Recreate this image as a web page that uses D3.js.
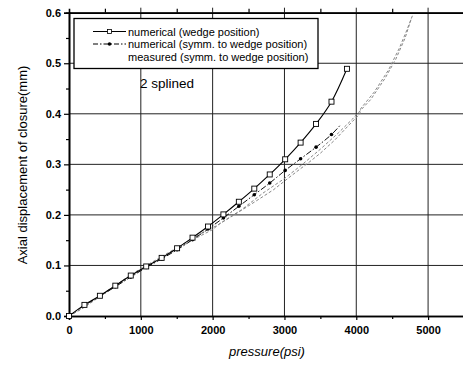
<!DOCTYPE html>
<html>
<head>
<meta charset="utf-8">
<script src="https://cdn.jsdelivr.net/npm/d3@7"></script>
<style>
  body { margin: 0; background: #fff; }
  svg { font-family: "Liberation Sans", Arial, sans-serif; }
</style>
</head>
<body>
<svg id="chart" width="463" height="366"></svg>
<script>
// pressure (psi) steps of the numerical runs
const pressure = [0, 215, 430, 645, 860, 1075, 1290, 1505, 1720, 1935, 2150, 2365, 2580, 2795, 3010, 3225, 3440, 3655, 3870];
// numerical, wedge position (mm)
const wedge = [0, 0.022, 0.04, 0.06, 0.08, 0.098, 0.115, 0.134, 0.155, 0.177, 0.201, 0.226, 0.252, 0.28, 0.31, 0.343, 0.38, 0.424, 0.489];
// numerical, symm. to wedge position (mm), last point has no marker
const symmP = [0, 215, 430, 645, 860, 1075, 1290, 1505, 1720, 1935, 2150, 2365, 2580, 2795, 3010, 3225, 3440, 3655, 3780];
const symm = [0, 0.021, 0.039, 0.058, 0.077, 0.096, 0.113, 0.131, 0.151, 0.172, 0.194, 0.217, 0.24, 0.263, 0.288, 0.311, 0.334, 0.359, 0.378];
// measured traces (two passes)
const measP1 = [0, 150, 400, 700, 1000, 1250, 1500, 1800, 1950, 2050, 2300, 2600, 2850, 3100, 3350, 3500, 3700, 3900, 4050, 4060, 4250, 4450, 4600, 4700, 4790];
const meas1 = [0, 0.012, 0.037, 0.066, 0.094, 0.114, 0.135, 0.16, 0.172, 0.178, 0.2, 0.227, 0.25, 0.278, 0.305, 0.322, 0.348, 0.378, 0.4, 0.41, 0.443, 0.487, 0.53, 0.564, 0.597];
const measP2 = [0, 200, 500, 800, 1100, 1400, 1700, 2000, 2100, 2400, 2700, 3000, 3250, 3500, 3750, 3950, 4000, 4200, 4400, 4550, 4680, 4770];
const meas2 = [0, 0.016, 0.045, 0.073, 0.1, 0.124, 0.149, 0.171, 0.183, 0.21, 0.243, 0.272, 0.3, 0.33, 0.362, 0.39, 0.398, 0.428, 0.47, 0.508, 0.55, 0.59];

const xTicks = [0, 1000, 2000, 3000, 4000, 5000];
const yTicks = [0.0, 0.1, 0.2, 0.3, 0.4, 0.5, 0.6];

const svg = d3.select("#chart");
const plotLeft = 69, plotRight = 464, plotTop = 12.7, plotBottom = 316;

const x = d3.scaleLinear().domain([0, 5500]).range([plotLeft, plotRight]);
const y = d3.scaleLinear().domain([0, 0.6]).range([plotBottom, plotTop]);

// grid
svg.append("g").selectAll("line").data(xTicks.slice(1)).enter().append("line")
  .attr("x1", d => x(d)).attr("x2", d => x(d)).attr("y1", plotTop - 5).attr("y2", plotBottom)
  .attr("stroke", "#222").attr("stroke-width", 1);
svg.append("g").selectAll("line").data(yTicks.slice(1)).enter().append("line")
  .attr("x1", plotLeft).attr("x2", plotRight).attr("y1", d => y(d)).attr("y2", d => y(d))
  .attr("stroke", "#222").attr("stroke-width", 1);

// axes
const xAxis = svg.append("g").attr("transform", `translate(0,${plotBottom})`)
  .call(d3.axisBottom(x).tickValues(xTicks).tickSize(4).tickPadding(6).tickFormat(d3.format("d")));
const xMinor = svg.append("g").attr("transform", `translate(0,${plotBottom})`)
  .call(d3.axisBottom(x).tickValues(d3.range(500, 5500, 1000)).tickSize(3).tickFormat(""));
const xTop = svg.append("g").attr("transform", `translate(0,${plotTop})`)
  .call(d3.axisTop(x).tickValues(d3.range(500, 5500, 1000)).tickSize(4).tickFormat(""));
const yAxis = svg.append("g").attr("transform", `translate(${plotLeft},0)`)
  .call(d3.axisLeft(y).tickValues(yTicks).tickSize(5).tickPadding(3).tickFormat(d3.format(".1f")));
const yMinor = svg.append("g").attr("transform", `translate(${plotLeft},0)`)
  .call(d3.axisLeft(y).tickValues(d3.range(0.05, 0.6, 0.1)).tickSize(3).tickFormat(""));

[xAxis, xMinor, xTop, yAxis, yMinor].forEach(g => {
  g.select(".domain").attr("stroke", "#000").attr("stroke-width", 1.6);
  g.selectAll(".tick line").attr("stroke", "#000").attr("stroke-width", 1.2);
  g.selectAll("text").attr("fill", "#000").style("font-size", "11px").style("font-weight", "bold");
});

// measured traces
const measLine = d3.line().x(d => x(d[0])).y(d => y(d[1]));
[[measP1, meas1], [measP2, meas2]].forEach(([px, py]) => {
  svg.append("path").datum(px.map((p, i) => [p, py[i]]))
    .attr("d", measLine).attr("fill", "none")
    .attr("stroke", "#888").attr("stroke-width", 1).attr("stroke-dasharray", "3,2");
});

// numerical symm.
const symmData = symmP.map((p, i) => [p, symm[i]]);
svg.append("path").datum(symmData)
  .attr("d", d3.line().curve(d3.curveCatmullRom).x(d => x(d[0])).y(d => y(d[1])))
  .attr("fill", "none").attr("stroke", "#111").attr("stroke-width", 1)
  .attr("stroke-dasharray", "6,2,1.5,2");
svg.append("g").selectAll("circle").data(symmData.slice(0, -1)).enter().append("circle")
  .attr("cx", d => x(d[0])).attr("cy", d => y(d[1])).attr("r", 1.8).attr("fill", "#000");

// numerical wedge
const wedgeData = pressure.map((p, i) => [p, wedge[i]]);
svg.append("path").datum(wedgeData)
  .attr("d", d3.line().curve(d3.curveCatmullRom).x(d => x(d[0])).y(d => y(d[1])))
  .attr("fill", "none").attr("stroke", "#000").attr("stroke-width", 1.1);
svg.append("g").selectAll("rect").data(wedgeData).enter().append("rect")
  .attr("x", d => x(d[0]) - 2.5).attr("y", d => y(d[1]) - 2.5)
  .attr("width", 5).attr("height", 5)
  .attr("fill", "#fff").attr("stroke", "#000").attr("stroke-width", 0.9);

// legend
const lg = svg.append("g");
lg.append("rect").attr("x", 74).attr("y", 18.5).attr("width", 244).attr("height", 50)
  .attr("fill", "#fff").attr("stroke", "#000").attr("stroke-width", 1.3);
const rows = [
  { label: "numerical (wedge position)", kind: "wedge", cy: 31.5 },
  { label: "numerical (symm. to wedge position)", kind: "symm", cy: 44 },
  { label: "measured (symm. to wedge position)", kind: "meas", cy: 57 }
];
rows.forEach(r => {
  if (r.kind === "wedge") {
    lg.append("line").attr("x1", 93).attr("x2", 126).attr("y1", r.cy).attr("y2", r.cy)
      .attr("stroke", "#000").attr("stroke-width", 1);
    lg.append("rect").attr("x", 107.5).attr("y", r.cy - 2).attr("width", 4).attr("height", 4)
      .attr("fill", "#fff").attr("stroke", "#000").attr("stroke-width", 0.8);
  } else if (r.kind === "symm") {
    lg.append("line").attr("x1", 93).attr("x2", 126).attr("y1", r.cy).attr("y2", r.cy)
      .attr("stroke", "#000").attr("stroke-width", 1).attr("stroke-dasharray", "5,2,1.5,2");
    lg.append("circle").attr("cx", 109.5).attr("cy", r.cy).attr("r", 1.8).attr("fill", "#000");
  }
  lg.append("text").attr("x", 128).attr("y", r.cy + 4).text(r.label)
    .style("font-size", "11px").attr("fill", "#000");
});

svg.append("text").attr("x", 140).attr("y", 88).text("2 splined")
  .style("font-size", "13.5px").attr("fill", "#000");

// axis titles
svg.append("text").attr("x", 267).attr("y", 356).attr("text-anchor", "middle")
  .style("font-size", "13px").style("font-style", "italic").text("pressure(psi)");
svg.append("text").attr("transform", "translate(27,165) rotate(-90)").attr("text-anchor", "middle")
  .style("font-size", "13px").text("Axial displacement of closure(mm)");
</script>
</body>
</html>
